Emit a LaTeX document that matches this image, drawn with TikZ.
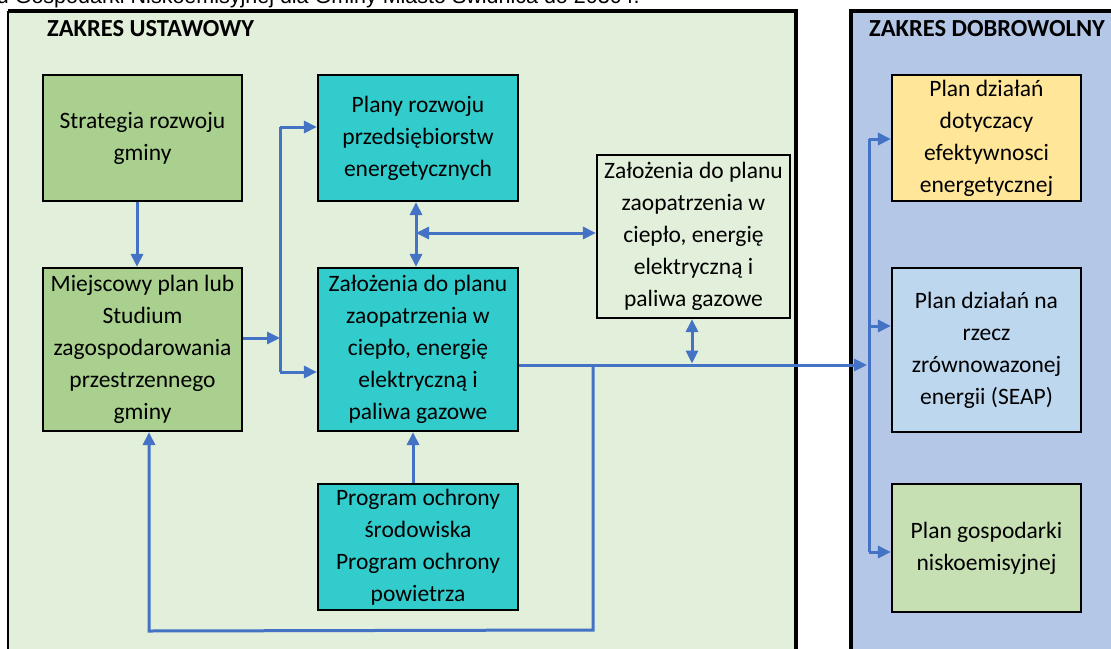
\documentclass[tikz,border=0pt]{standalone}
\usepackage{fontspec}
\setmainfont{Carlito}
\newfontfamily\arialf{Liberation Sans}
\usetikzlibrary{arrows.meta}
\definecolor{pgreen}{HTML}{E2EFDA}
\definecolor{pblue}{HTML}{B4C7E7}
\definecolor{dgreen}{HTML}{A9D08E}
\definecolor{teal}{HTML}{33CCCC}
\definecolor{yel}{HTML}{FFE699}
\definecolor{lblue}{HTML}{BDD7EE}
\definecolor{lgreen}{HTML}{C6E0B4}
\definecolor{arrc}{HTML}{4472C4}
\tikzset{
  box/.style={draw=black, line width=2.2pt, inner sep=0pt, align=center,
    font=\fontsize{23.5}{32}\selectfont},
  conn/.style={draw=arrc, line width=3pt},
  arr/.style={conn, -{Triangle[length=13pt,width=12pt]}},
  darr/.style={conn, {Triangle[length=13pt,width=12pt]}-{Triangle[length=13pt,width=12pt]}},
  hdr/.style={anchor=base west, inner sep=0pt, font=\bfseries\fontsize{24.5}{28}\selectfont},
}
\begin{document}
\begin{tikzpicture}[x=1pt,y=-1pt]
\clip (0,0) rectangle (1111,648);
\fill[white] (0,0) rectangle (1111,648);
% top clipped caption
\node[anchor=base east, inner sep=0pt, font=\arialf\fontsize{21.5}{24}\selectfont] (cap) at (640,3.5) {Planu Gospodarki Niskoemisyjnej dla Gminy Miasto Świdnica do 2030 r.};
% panels
\fill[pgreen] (8,11) rectangle (796,660);
\draw[black, line width=1.2pt] (8,11) -- (8,660);
\draw[black, line width=3.5pt] (8,11) -- (796,11) -- (796,660);
\fill[pblue] (851,11) rectangle (1120,660);
\draw[black, line width=3.5pt] (851,660) -- (851,11) -- (1120,11);
\node[hdr] (h1) at (47,36) {ZAKRES USTAWOWY};
\node[hdr] (h2) at (869,36) {ZAKRES DOBROWOLNY};
% boxes
\node[box, fill=dgreen, minimum width=199pt, minimum height=126pt] (strat) at (142.5,138) {Strategia rozwoju\\gminy};
\node[box, fill=teal, minimum width=200pt, minimum height=126pt] (plany) at (418,138) {Plany rozwoju\\przedsiębiorstw\\energetycznych};
\node[box, fill=dgreen, minimum width=199pt, minimum height=163pt] (miejsc) at (142.5,349.5) {Miejscowy plan lub\\Studium\\zagospodarowania\\przestrzennego\\gminy};
\node[box, fill=teal, minimum width=200pt, minimum height=163pt] (zal) at (418,349.5) {Założenia do planu\\zaopatrzenia w\\ciepło, energię\\elektryczną i\\paliwa gazowe};
\node[box, fill=teal, minimum width=200pt, minimum height=126pt] (prog) at (418,547) {Program ochrony\\środowiska\\Program ochrony\\powietrza};
\node[box, fill=pgreen, minimum width=193pt, minimum height=163pt] (zal2) at (693.5,236.5) {Założenia do planu\\zaopatrzenia w\\ciepło, energię\\elektryczną i\\paliwa gazowe};
\node[box, fill=yel, minimum width=189pt, minimum height=126pt] (pd1) at (986.5,138) {Plan działań\\dotyczacy\\efektywnosci\\energetycznej};
\node[box, fill=lblue, minimum width=189pt, minimum height=164pt] (pd2) at (986.5,350) {Plan działań na\\rzecz\\zrównowazonej\\energii (SEAP)};
\node[box, fill=lgreen, minimum width=189pt, minimum height=128pt] (pg) at (986.5,548) {Plan gospodarki\\niskoemisyjnej};
% junction coordinates
\coordinate (sx) at (137,0);
\coordinate (jtop) at (280,127);
\coordinate (jmid) at (280,338);
\coordinate (jbot) at (280,372);
\coordinate (dv) at (416,233);
\coordinate (m) at (0,365);
\coordinate (bin) at (867,365);
\coordinate (vtop) at (869,139);
\coordinate (vmid) at (869,326);
\coordinate (vbot) at (869,552);
\coordinate (d2) at (692,365);
\coordinate (f1) at (593,365);
\coordinate (f2) at (593,630);
\coordinate (f3) at (149,631);
\coordinate (px) at (413,0);
% connectors
\draw[arr] (strat.south -| sx) -- (miejsc.north -| sx);
\draw[arr] (miejsc.east |- jmid) -- (jmid);
\draw[conn] (jtop) -- (jbot);
\draw[arr] (jtop) -- (jtop -| plany.west);
\draw[arr] (jbot) -- (jbot -| zal.west);
\draw[darr] (plany.south -| dv) -- (zal.north -| dv);
\draw[darr] (dv) -- (dv -| zal2.west);
\draw[arr] (zal.east |- m) -- (bin);
\draw[conn] (vtop) -- (vbot);
\draw[arr] (vtop) -- (vtop -| pd1.west);
\draw[arr] (vmid) -- (vmid -| pd2.west);
\draw[arr] (vbot) -- (vbot -| pg.west);
\draw[darr] (zal2.south -| d2) -- ([yshift=1.5pt]d2);
\draw[arr] (f1) -- (f2) -- (f3) -- (miejsc.south -| f3);
\draw[arr] (prog.north -| px) -- (zal.south -| px);
\end{tikzpicture}
\end{document}
